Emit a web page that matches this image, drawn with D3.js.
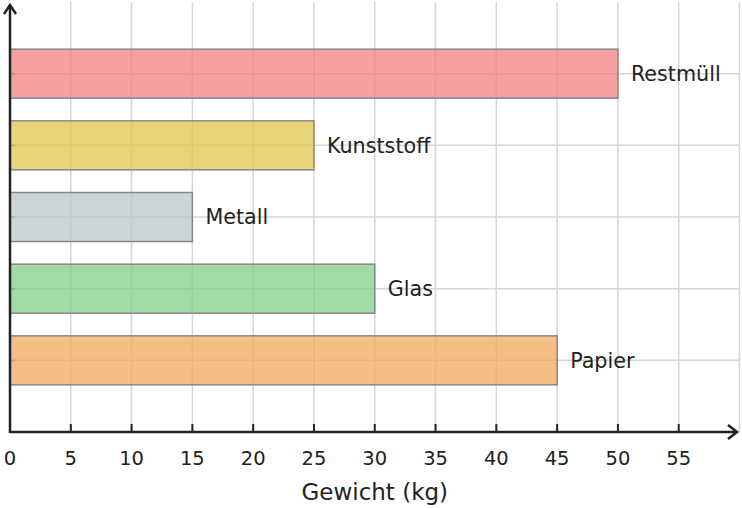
<!DOCTYPE html>
<html>
<head>
<meta charset="utf-8">
<script src="https://cdn.jsdelivr.net/npm/d3@7"></script>
<style>
  body { margin: 0; background: #fff; }
  svg { display: block; font-family: "DejaVu Sans", sans-serif; }
</style>
</head>
<body>
<svg id="chart"></svg>
<script>
// Daten
const categories = ["Restmüll", "Kunststoff", "Metall", "Glas", "Papier"];
const values = [50, 25, 15, 30, 45];
const colors = ["#f08080", "#dcc64e", "#bcc6cb", "#80cf87", "#f0a85c"];
const xTicks = [0, 5, 10, 15, 20, 25, 30, 35, 40, 45, 50, 55];
const xTitle = "Gewicht (kg)";

const width = 742, height = 508;
const svg = d3.select("#chart")
    .attr("width", width)
    .attr("height", height);

const x = d3.scaleLinear().domain([0, 60]).range([10, 739.5]);
const y = d3.scaleLinear().domain([0, 6]).range([432, 2]);
const pos = categories.map((c, i) => i + 1);
const barH = 49;

// Gitter
const grid = svg.append("g")
    .style("stroke", "#d6d6d6")
    .style("stroke-width", 1.5);

grid.selectAll(".gv")
    .data(d3.range(5, 61, 5))
    .join("line")
    .attr("x1", d => x(d)).attr("x2", d => x(d))
    .attr("y1", y(6)).attr("y2", y(0));

grid.selectAll(".gh")
    .data(d3.range(1, 7))
    .join("line")
    .attr("x1", x(0)).attr("x2", x(60))
    .attr("y1", d => y(6 - d + 0) ).attr("y2", d => y(6 - d + 0));

// kleine y-Striche
svg.append("g")
    .selectAll("line")
    .data(pos)
    .join("line")
    .attr("x1", x(0)).attr("x2", x(0) + 5)
    .attr("y1", d => y(6 - d)).attr("y2", d => y(6 - d))
    .style("stroke", "#777")
    .style("stroke-width", 1.5);

// Balken
svg.append("g")
    .selectAll("rect")
    .data(categories)
    .join("rect")
    .attr("x", x(0))
    .attr("y", (d, i) => y(6 - pos[i]) - barH / 2)
    .attr("width", (d, i) => x(values[i]) - x(0))
    .attr("height", barH)
    .style("fill", (d, i) => colors[i])
    .style("fill-opacity", 0.75)
    .style("stroke", "#888")
    .style("stroke-width", 1.5);

// Beschriftungen
svg.append("g")
    .selectAll("text")
    .data(categories)
    .join("text")
    .attr("x", (d, i) => x(values[i]) + 13)
    .attr("y", (d, i) => y(6 - pos[i]))
    .attr("dy", "0.35em")
    .style("font-size", "20.7px")
    .style("fill", "#222")
    .text(d => d);

// Achsen
const axis = svg.append("g")
    .style("stroke", "#222")
    .style("stroke-width", 2.5)
    .style("fill", "none");

axis.append("line")
    .attr("x1", x(0)).attr("x2", 737)
    .attr("y1", y(0)).attr("y2", y(0));
axis.append("path")
    .attr("d", `M728,${y(0) - 7} L737,${y(0)} L728,${y(0) + 7}`);

axis.append("line")
    .attr("x1", x(0)).attr("x2", x(0))
    .attr("y1", y(0) + 1).attr("y2", 5);
axis.append("path")
    .attr("d", `M${x(0) - 6},14 L${x(0)},5 L${x(0) + 6},14`);

axis.selectAll(".tick")
    .data(xTicks.slice(1))
    .join("line")
    .attr("x1", d => x(d)).attr("x2", d => x(d))
    .attr("y1", y(0)).attr("y2", y(0) - 8)
    .style("stroke-width", 2);

svg.append("g")
    .selectAll("text")
    .data(xTicks)
    .join("text")
    .attr("x", d => x(d))
    .attr("y", 458)
    .attr("dy", "0.35em")
    .attr("text-anchor", "middle")
    .style("font-size", "19.5px")
    .style("fill", "#222")
    .text(d => d);

svg.append("text")
    .attr("x", (x(0) + x(60)) / 2)
    .attr("y", 492)
    .attr("dy", "0.35em")
    .attr("text-anchor", "middle")
    .style("font-size", "23px")
    .style("fill", "#222")
    .text(xTitle);
</script>
</body>
</html>
